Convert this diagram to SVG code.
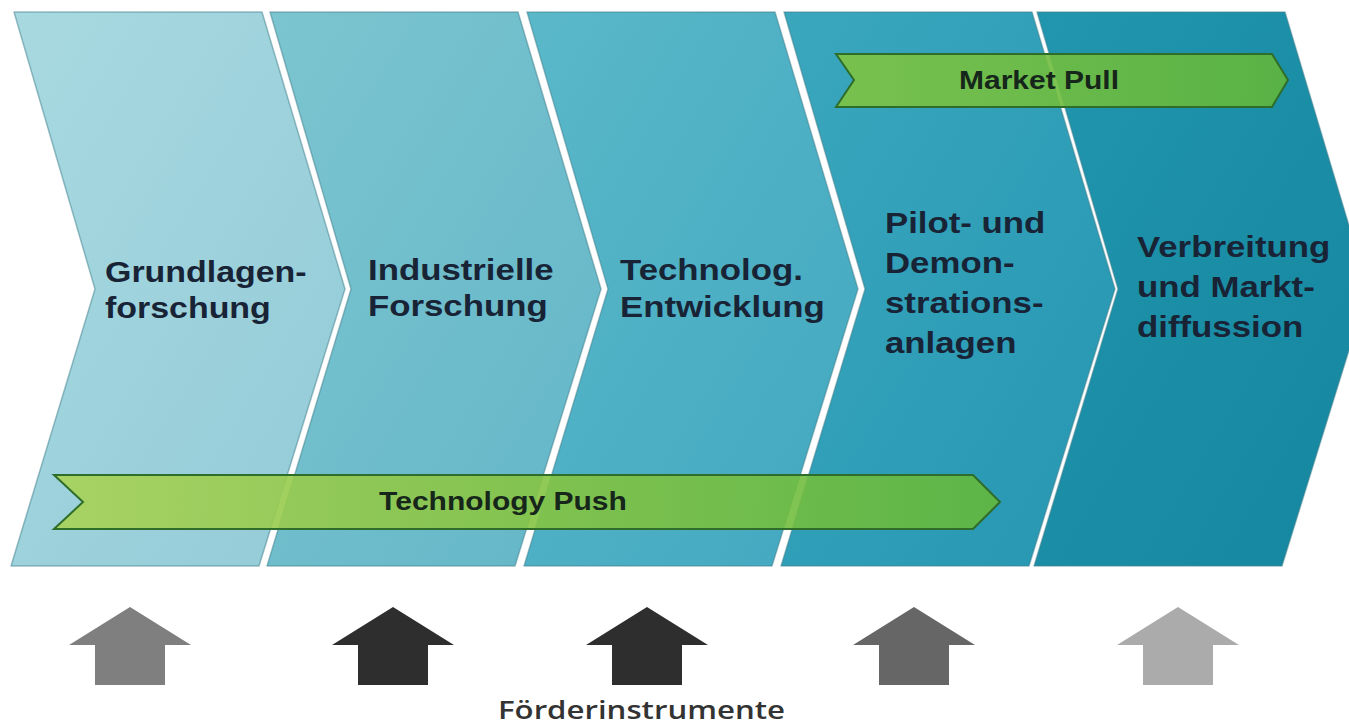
<svg xmlns="http://www.w3.org/2000/svg" width="1349" height="728" viewBox="0 0 1349 728">
  <defs>
    <linearGradient id="g1" x1="0" y1="0" x2="1" y2="1">
      <stop offset="0" stop-color="#a8d9e1"/>
      <stop offset="1" stop-color="#93cbd7"/>
    </linearGradient>
    <linearGradient id="g2" x1="0" y1="0" x2="1" y2="1">
      <stop offset="0" stop-color="#7cc5d0"/>
      <stop offset="1" stop-color="#63b6c8"/>
    </linearGradient>
    <linearGradient id="g3" x1="0" y1="0" x2="1" y2="1">
      <stop offset="0" stop-color="#5ab8c9"/>
      <stop offset="1" stop-color="#42a8c0"/>
    </linearGradient>
    <linearGradient id="g4" x1="0" y1="0" x2="1" y2="1">
      <stop offset="0" stop-color="#3aa7bd"/>
      <stop offset="1" stop-color="#2696b2"/>
    </linearGradient>
    <linearGradient id="g5" x1="0" y1="0" x2="1" y2="1">
      <stop offset="0" stop-color="#2196ae"/>
      <stop offset="1" stop-color="#15869f"/>
    </linearGradient>
    <linearGradient id="pushFill" x1="0" y1="0" x2="1" y2="0">
      <stop offset="0" stop-color="#a9d257"/>
      <stop offset="0.5" stop-color="#86c443"/>
      <stop offset="1" stop-color="#62b83c"/>
    </linearGradient>
    <linearGradient id="pullFill" x1="0" y1="0" x2="1" y2="0">
      <stop offset="0" stop-color="#7fc443"/>
      <stop offset="1" stop-color="#60b63b"/>
    </linearGradient>
  </defs>
  <style>
    .chev { stroke: #3f7f8c; stroke-opacity: 0.5; stroke-width: 1.5; stroke-linejoin: round; }
    .label { font-family: "Liberation Sans", Arial, sans-serif; font-weight: bold; font-size: 29px; fill: #182436; }
    .bar { stroke: #2f6d2a; stroke-width: 2; fill-opacity: 0.9; stroke-linejoin: miter; }
    .barText { font-family: "Liberation Sans", Arial, sans-serif; font-weight: bold; font-size: 25px; fill: #16261a; text-anchor: middle; }
    .caption { font-family: "Open Sans", "Noto Sans", sans-serif; font-weight: 600; font-size: 26px; fill: #333333; }
  </style>

  <rect width="1349" height="728" fill="#ffffff"/>

  <!-- process stages -->
  <g id="stage1">
    <polygon class="chev" fill="url(#g1)" points="14,12 262,12 345,289 259,566 11,566 95,289"/>
    <text class="label" transform="translate(105 282) scale(1.17 1)"><tspan x="0" y="0">Grundlagen-</tspan><tspan x="0" y="36">forschung</tspan></text>
  </g>
  <g id="stage2">
    <polygon class="chev" fill="url(#g2)" points="270,12 518,12 601,289 515,566 267,566 351,289"/>
    <text class="label" transform="translate(368 280) scale(1.2 1)"><tspan x="0" y="0">Industrielle</tspan><tspan x="0" y="36">Forschung</tspan></text>
  </g>
  <g id="stage3">
    <polygon class="chev" fill="url(#g3)" points="527,12 775,12 858,289 772,566 524,566 608,289"/>
    <text class="label" transform="translate(620 280) scale(1.2 1)"><tspan x="0" y="0">Technolog.</tspan><tspan x="0" y="37">Entwicklung</tspan></text>
  </g>
  <g id="stage4">
    <polygon class="chev" fill="url(#g4)" points="784,12 1032,12 1115,289 1029,566 781,566 865,289"/>
    <text class="label" transform="translate(885 233) scale(1.2 1)"><tspan x="0" y="0">Pilot- und</tspan><tspan x="0" y="40">Demon-</tspan><tspan x="0" y="80">strations-</tspan><tspan x="0" y="120">anlagen</tspan></text>
  </g>
  <g id="stage5">
    <polygon class="chev" fill="url(#g5)" points="1037,12 1285,12 1368,289 1282,566 1034,566 1118,289"/>
    <text class="label" transform="translate(1137 257) scale(1.2 1)"><tspan x="0" y="0">Verbreitung</tspan><tspan x="0" y="40">und Markt-</tspan><tspan x="0" y="80">diffussion</tspan></text>
  </g>

  <!-- push / pull bands -->
  <g id="technology-push">
    <polygon class="bar" fill="url(#pushFill)" points="54,475 973,475 1000,502 973,529 54,529 83,502"/>
    <text class="barText" transform="translate(503 510) scale(1.2 1)" x="0" y="0">Technology Push</text>
  </g>
  <g id="market-pull">
    <polygon class="bar" fill="url(#pullFill)" points="836,54 1272,54 1288,80 1272,107 836,107 854,80"/>
    <text class="barText" transform="translate(1039 89) scale(1.2 1)" x="0" y="0">Market Pull</text>
  </g>

  <!-- funding instrument arrows -->
  <g id="connectors">
    <polygon id="instrument1" fill="#7f7f7f" points="130,607 191,645 165,645 165,685 95,685 95,645 69,645"/>
    <polygon id="instrument2" fill="#2e2e2e" points="393,607 454,645 428,645 428,685 358,685 358,645 332,645"/>
    <polygon id="instrument3" fill="#2e2e2e" points="647,607 708,645 682,645 682,685 612,685 612,645 586,645"/>
    <polygon id="instrument4" fill="#666666" points="914,607 975,645 949,645 949,685 879,685 879,645 853,645"/>
    <polygon id="instrument5" fill="#ababab" points="1178,607 1239,645 1213,645 1213,685 1143,685 1143,645 1117,645"/>
  </g>

  <g id="caption">
    <text class="caption" x="498" y="719" textLength="287" lengthAdjust="spacingAndGlyphs">Förderinstrumente</text>
  </g>
</svg>
